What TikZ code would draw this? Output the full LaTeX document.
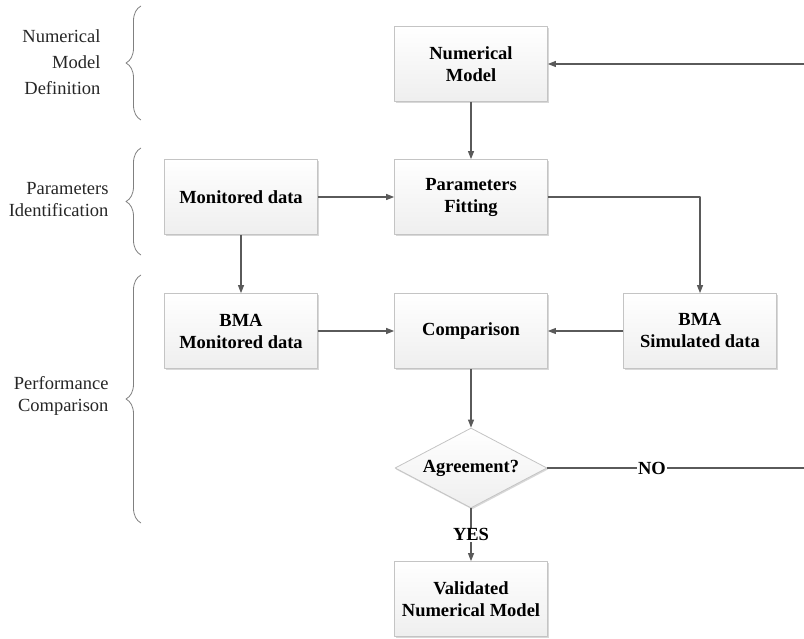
\documentclass[tikz,border=0pt]{standalone}
\usepackage{fontspec}
\setmainfont{Liberation Serif}
\usetikzlibrary{arrows.meta,shapes.geometric,shadows,decorations.pathreplacing}
\definecolor{linegray}{HTML}{5A5A5A}
\definecolor{edgegray}{HTML}{C4C4C4}
\definecolor{bracegray}{HTML}{808080}
\begin{document}
\begin{tikzpicture}[x=1pt,y=-1pt,line join=round,>={Triangle[length=8pt,width=6pt]},
		font=\fontsize{18.5}{22}\selectfont,
		box/.style={rectangle,draw=edgegray,line width=0.8pt,top color=white,bottom color=gray!13,
			minimum width=153pt,minimum height=75pt,align=center,font=\fontsize{18.5}{22}\selectfont\bfseries,
			drop shadow={shadow xshift=1pt,shadow yshift=-1.5pt,fill=gray!60,opacity=0.5}},
		decide/.style={box,diamond,aspect=2,inner sep=0pt,minimum width=152pt,minimum height=80pt},
		link/.style={draw=linegray,line width=1.1pt,->},
		tag/.style={fill=white,inner sep=1pt,font=\fontsize{18.5}{22}\selectfont\bfseries},
		phase/.style={anchor=east,align=right,text=black!85},
		grp/.style={draw=bracegray,line width=0.8pt,decorate,decoration={brace,amplitude=15pt}}]
		\useasboundingbox (0,0) rectangle (804,639);
		% phases
		\draw[grp] (141,120) -- (141,6);
		\draw[grp] (141,255) -- (141,148);
		\draw[grp] (141,523) -- (141,275);
		\node[phase,font=\fontsize{18.5}{26}\selectfont] (ph1) at (104,62) {Numerical\\Model\\Definition};
		\node[phase] (ph2) at (112,200) {Parameters\\Identification};
		\node[phase] (ph3) at (112,396) {Performance\\Comparison};
		% blocks
		\node[box] (num) at (471,64) {Numerical\\Model};
		\node[box] (mon) at (241,197) {Monitored data};
		\node[box] (fit) at (471,197) {Parameters\\Fitting};
		\node[box] (bmamon) at (241,331) {BMA\\Monitored data};
		\node[box] (comp) at (471,331) {Comparison};
		\node[box] (bmasim) at (700,331) {BMA\\Simulated data};
		\node[decide] (agree) at (471,468) {Agreement?};
		\node[box] (valid) at (471,599) {Validated\\Numerical Model};
		\coordinate (ret) at (830,468);
		% connectors
		\draw[link] (num) -- (fit);
		\draw[link] (mon) -- (fit);
		\draw[link] (mon) -- (bmamon);
		\draw[link] (fit.east) -| (bmasim.north);
		\draw[link] (bmamon) -- (comp);
		\draw[link] (bmasim) -- (comp);
		\draw[link] (comp) -- (agree);
		\draw[link] (agree.south) -- node[tag]{YES} (valid.north);
		\draw[link] (agree.east) -- node[tag,pos=0.37]{NO} (ret) |- (num.east);
	\end{tikzpicture}
\end{document}
